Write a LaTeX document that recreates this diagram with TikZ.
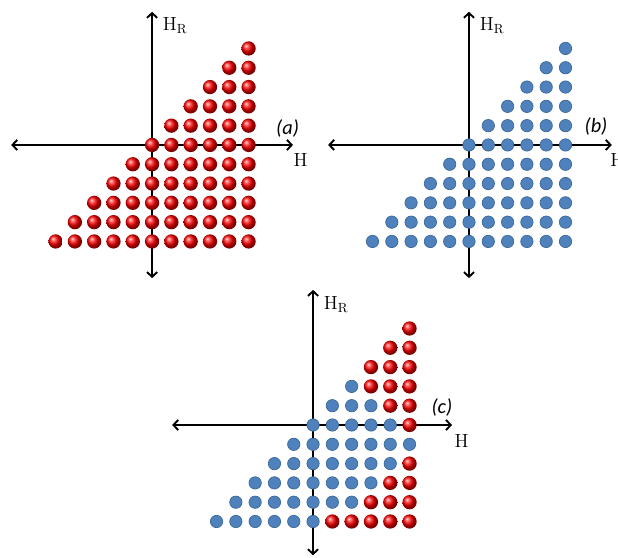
\documentclass[tikz,border=0pt]{standalone}
\usepackage{fontspec}
\newfontfamily\tagfont{Carlito}
\usetikzlibrary{arrows.meta}

\tikzset{
  axis/.style={line width=1.4pt, <->, >={Straight Barb[length=3.5pt,width=7.5pt]}},
  redball/.style={circle, inner sep=0pt, minimum size=3.7mm, shading=ball, ball color=red},
  blueball/.style={circle, inner sep=0pt, minimum size=3.2mm, fill=bluefill, draw=blueedge, line width=0.5pt},
  axlabel/.style={anchor=base, inner sep=0pt, font=\fontsize{14}{16}\selectfont},
  paneltag/.style={inner sep=0pt, font=\tagfont\itshape\fontsize{15}{17}\selectfont},
}
\definecolor{bluefill}{HTML}{4F81BD}
\definecolor{blueedge}{HTML}{3A6796}

\begin{document}
\begin{tikzpicture}[x=0.5cm, y=0.5cm]
\useasboundingbox (0,0) rectangle (32.02,-28.91);

% (a) all red
\begin{scope}[shift={(7.88,-7.51)}]
\coordinate (aW) at (-7.3,0);
\coordinate (aE) at (7.3,0);
\coordinate (aS) at (0,-6.9);
\coordinate (aN) at (0,6.9);
\draw[axis] (aW) -- (aE);
\draw[axis] (aS) -- (aN);
\node[axlabel, anchor=base west] (aHR) at (0.55,5.95) {H$_{\mathrm{R}}$};
\node[axlabel] (aH) at (7.69,-1.14) {H};
\node[paneltag] (aTag) at (7.02,0.87) {(a)};
\foreach \j in {-5,...,5}
  \foreach \i in {\j,...,5}
    \node[redball] (a\i/\j) at (\i,\j) {};
\end{scope}

% (b) all blue
\begin{scope}[shift={(24.30,-7.51)}]
\coordinate (bW) at (-7.3,0);
\coordinate (bE) at (7.4,0);
\coordinate (bS) at (0,-6.9);
\coordinate (bN) at (0,6.9);
\draw[axis] (bW) -- (bE);
\draw[axis] (bS) -- (bN);
\node[axlabel, anchor=base west] (bHR) at (0.55,5.95) {H$_{\mathrm{R}}$};
\node[axlabel] (bH) at (7.69,-1.14) {H};
\node[paneltag] (bTag) at (6.58,0.96) {(b)};
\foreach \j in {-5,...,5}
  \foreach \i in {\j,...,5}
    \node[blueball] (b\i/\j) at (\i,\j) {};
\end{scope}

% (c) mixed, \r = first red column of each row
\begin{scope}[shift={(16.22,-22.02)}]
\coordinate (cW) at (-7.3,0);
\coordinate (cE) at (7.2,0);
\coordinate (cS) at (0,-6.75);
\coordinate (cN) at (0,7.0);
\draw[axis] (cW) -- (cE);
\draw[axis] (cS) -- (cN);
\node[axlabel, anchor=base west] (cHR) at (0.55,6.0) {H$_{\mathrm{R}}$};
\node[axlabel] (cH) at (7.69,-1.14) {H};
\node[paneltag] (cTag) at (6.68,0.91) {(c)};
\foreach \j/\r in {5/5,4/4,3/3,2/3,1/4,0/5,-1/6,-2/5,-3/4,-4/3,-5/1}
  \foreach \i in {\j,...,5}
  {
    \ifnum\i<\r\relax
      \node[blueball] (c\i/\j) at (\i,\j) {};
    \else
      \node[redball] (c\i/\j) at (\i,\j) {};
    \fi
  }
\end{scope}
\end{tikzpicture}
\end{document}
